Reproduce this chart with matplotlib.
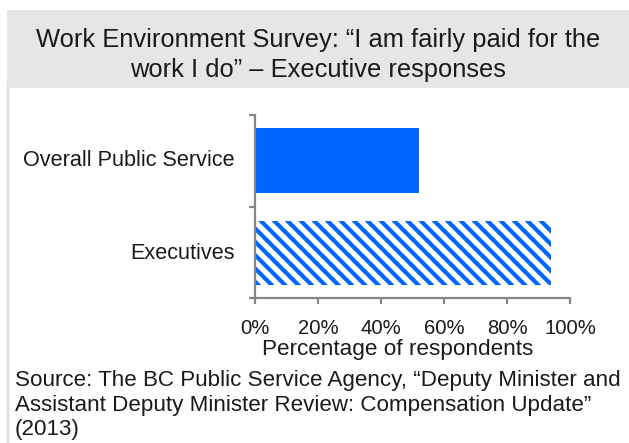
import matplotlib
matplotlib.use("Agg")
import matplotlib.pyplot as plt
from matplotlib.patches import Rectangle
from matplotlib.lines import Line2D

categories = ["Executives", "Overall Public Service"]
values = [94, 52]
hatches = ["\\" * 5, None]
xticks = [0, 20, 40, 60, 80, 100]
xtick_labels = ["0%", "20%", "40%", "60%", "80%", "100%"]

title = "Work Environment Survey: \u201cI am fairly paid for the\nwork I do\u201d \u2013 Executive responses"
xlabel = "Percentage of respondents"
source = ("Source: The BC Public Service Agency, \u201cDeputy Minister and\n"
          "Assistant Deputy Minister Review: Compensation Update\u201d\n(2013)")

plt.rcParams["font.family"] = ["Liberation Sans", "DejaVu Sans"]
plt.rcParams["hatch.linewidth"] = 1.5
plt.rcParams["hatch.color"] = "#0066FF"

W, H = 629, 443
DPI = 200
fig = plt.figure(figsize=(W / DPI, H / DPI), dpi=DPI)
TXT = "#1a1a1a"

def fx(x):
    return x / W

def fy(y):
    return 1 - y / H

# title box
fig.patches.append(Rectangle((fx(7), fy(88)), fx(622), 78 / H, transform=fig.transFigure,
                             facecolor="#e6e6e6", edgecolor="none", zorder=0))
fig.lines.append(Line2D([fx(7.5), fx(7.5)], [fy(88), 0], transform=fig.transFigure,
                        color="#d9d9d9", lw=0.8))
fig.text(fx(318), fy(55), title, ha="center", va="center", fontsize=9.2,
         color=TXT, linespacing=1.3)

ax = fig.add_axes([fx(255), fy(298), fx(570) - fx(255), (298 - 115) / H])
for i, (v, h) in enumerate(zip(values, hatches)):
    if h:
        ax.barh(i, v, height=0.69, color="white", edgecolor="#0066FF", hatch=h, linewidth=0)
    else:
        ax.barh(i, v, height=0.69, color="#0066FF", linewidth=0)
ax.set_xlim(0, 100)
ax.set_ylim(-0.48, 1.49)
ax.set_xticks(xticks)
ax.set_xticklabels(xtick_labels, fontsize=7.3, color=TXT)
ax.set_yticks([-0.48, 0.5, 1.49])
ax.set_yticklabels([])
for sp in ["top", "right"]:
    ax.spines[sp].set_visible(False)
for sp in ["left", "bottom"]:
    ax.spines[sp].set_color("#868686")
    ax.spines[sp].set_linewidth(0.8)
ax.tick_params(axis="both", direction="out", length=2, width=0.8, color="#868686")
ax.tick_params(axis="x", pad=5.5)
for i, c in enumerate(categories):
    ax.text(-0.065, i, c, transform=ax.get_yaxis_transform(), ha="right", va="center",
            fontsize=7.8, color=TXT)

fig.text(fx(398), fy(349), xlabel, ha="center", va="center", fontsize=8.1, color=TXT)
fig.text(fx(15), fy(405), source, ha="left", va="center", fontsize=8.05, color=TXT,
         linespacing=1.2)

fig.savefig("out.png", dpi=DPI)
